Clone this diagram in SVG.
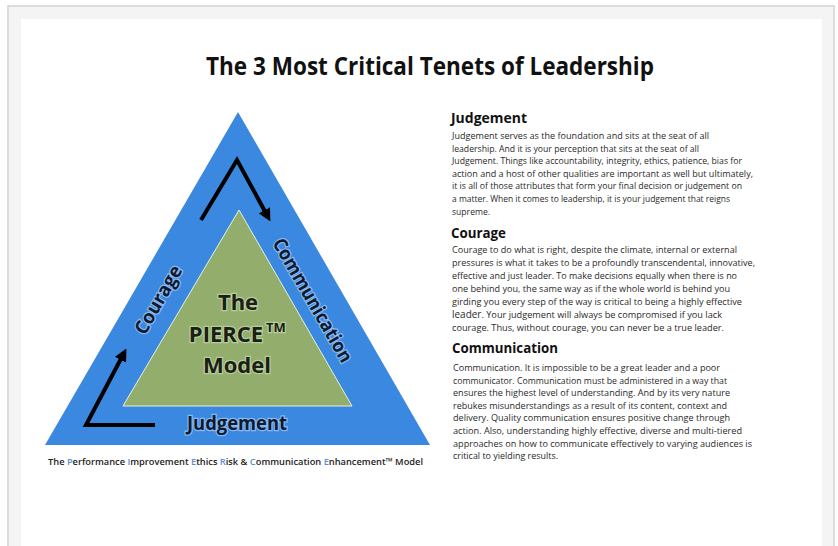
<svg xmlns="http://www.w3.org/2000/svg" width="838" height="546" viewBox="0 0 838 546">
<defs>
<style>
.title{font-family:"Open Sans","Liberation Sans",sans-serif;font-weight:700;font-size:25px;fill:#111}
.h{font-family:"Open Sans","Liberation Sans",sans-serif;font-weight:700;font-size:15px;fill:#111}
.b{font-family:"Open Sans","Liberation Sans",sans-serif;font-size:9.4px;fill:#2a2a2a}
.ctr{font-family:"Open Sans","Liberation Sans",sans-serif;font-weight:700;font-size:22px;fill:#1b1f14;text-anchor:middle;stroke:#d8e8c8;stroke-width:2.5;stroke-opacity:0.55;paint-order:stroke}
.lbl{font-family:"Open Sans","Liberation Sans",sans-serif;font-weight:700;font-size:19px;fill:#0e1a30;text-anchor:middle;stroke:#cfe3ff;stroke-width:2.5;stroke-opacity:0.55;paint-order:stroke}
.cap{font-family:"Open Sans","Liberation Sans",sans-serif;font-weight:600;font-size:9.5px;fill:#222}
.cap .k{fill:#5b8fd6}
.arr{fill:none;stroke:#000;stroke-width:4;stroke-linejoin:miter;marker-end:url(#ah)}
</style>
<marker id="ah" viewBox="0 0 10 10" refX="6" refY="5" markerWidth="3.2" markerHeight="3.2" orient="auto" markerUnits="strokeWidth">
<path d="M0,0 L10,5 L0,10 z" fill="#000"/>
</marker>
</defs>
<rect x="0" y="0" width="838" height="546" fill="#fff"/>
<rect x="8" y="6" width="826" height="560" fill="#f4f4f4" stroke="#dcdcdc" stroke-width="2"/>
<rect x="21" y="19" width="801" height="540" fill="#fff"/>
<text class="title" x="206" y="75" textLength="448" lengthAdjust="spacingAndGlyphs">The 3 Most Critical Tenets of Leadership</text>

<g id="node-outer-triangle">
<polygon points="238,112 45,445 430,445" fill="#3b88e0"/>
</g>
<g id="node-inner-triangle">
<polygon points="239,210 123,406 352,406" fill="#93ae6c" stroke="#e6f0dc" stroke-width="1"/>
<text class="ctr" x="238" y="310">The</text>
<text class="ctr" x="226" y="341.5">PIERCE</text>
<text class="ctr" x="276" y="332" style="font-size:13px">TM</text>
<text class="ctr" x="237" y="373">Model</text>
</g>
<g id="node-labels">
<text class="lbl" transform="translate(164,303) rotate(-60)" textLength="76" lengthAdjust="spacingAndGlyphs">Courage</text>
<text class="lbl" transform="translate(307,303.5) rotate(60)" textLength="140" lengthAdjust="spacingAndGlyphs">Communication</text>
<text class="lbl" x="237" y="430" textLength="100" lengthAdjust="spacingAndGlyphs">Judgement</text>
</g>
<g id="connectors">
<polyline class="arr" points="201,220 237,160 268,217"/>
<polyline class="arr" points="155,425 86,425 124,353"/>
</g>

<text class="cap" x="48" y="465" textLength="375" lengthAdjust="spacingAndGlyphs">The <tspan class="k">P</tspan>erformance <tspan class="k">I</tspan>mprovement <tspan class="k">E</tspan>thics <tspan class="k">R</tspan>isk &amp; <tspan class="k">C</tspan>ommunication <tspan class="k">E</tspan>nhancement™ Model</text>

<g id="node-judgement-text">
<text class="h" x="451" y="123" textLength="76" lengthAdjust="spacingAndGlyphs">Judgement</text>
<text class="b" x="452" y="139" textLength="257" lengthAdjust="spacingAndGlyphs">Judgement serves as the foundation and sits at the seat of all</text>
<text class="b" x="452" y="151.6" textLength="247" lengthAdjust="spacingAndGlyphs">leadership. And it is your perception that sits at the seat of all</text>
<text class="b" x="452" y="164.2" textLength="290" lengthAdjust="spacingAndGlyphs">Judgement. Things like accountability, integrity, ethics, patience, bias for</text>
<text class="b" x="452" y="176.8" textLength="301" lengthAdjust="spacingAndGlyphs">action and a host of other qualities are important as well but ultimately,</text>
<text class="b" x="452" y="189.4" textLength="290" lengthAdjust="spacingAndGlyphs">it is all of those attributes that form your final decision or judgement on</text>
<text class="b" x="452" y="202" textLength="278" lengthAdjust="spacingAndGlyphs">a matter. When it comes to leadership, it is your judgement that reigns</text>
<text class="b" x="452" y="214.6" textLength="38" lengthAdjust="spacingAndGlyphs">supreme.</text>
</g>
<g id="node-courage-text">
<text class="h" x="451" y="238" textLength="55" lengthAdjust="spacingAndGlyphs">Courage</text>
<text class="b" x="452" y="253" textLength="285" lengthAdjust="spacingAndGlyphs">Courage to do what is right, despite the climate, internal or external</text>
<text class="b" x="452" y="266" textLength="303" lengthAdjust="spacingAndGlyphs">pressures is what it takes to be a profoundly transcendental, innovative,</text>
<text class="b" x="452" y="279" textLength="285" lengthAdjust="spacingAndGlyphs">effective and just leader. To make decisions equally when there is no</text>
<text class="b" x="452" y="292" textLength="278" lengthAdjust="spacingAndGlyphs">one behind you, the same way as if the whole world is behind you</text>
<text class="b" x="452" y="305" textLength="290" lengthAdjust="spacingAndGlyphs">girding you every step of the way is critical to being a highly effective</text>
<text class="b" x="452" y="318" textLength="270" lengthAdjust="spacingAndGlyphs"><tspan style="font-size:10.2px">leader</tspan>. Your judgement will always be compromised if you lack</text>
<text class="b" x="452" y="331" textLength="272" lengthAdjust="spacingAndGlyphs">courage. Thus, without courage, you can never be a true leader.</text>
</g>
<g id="node-communication-text">
<text class="h" x="452" y="353" textLength="106" lengthAdjust="spacingAndGlyphs">Communication</text>
<text class="b" x="453" y="371" textLength="267" lengthAdjust="spacingAndGlyphs">Communication. It is impossible to be a great leader and a poor</text>
<text class="b" x="453" y="383.6" textLength="274" lengthAdjust="spacingAndGlyphs">communicator. Communication must be administered in a way that</text>
<text class="b" x="453" y="396.2" textLength="277" lengthAdjust="spacingAndGlyphs">ensures the highest level of understanding. And by its very nature</text>
<text class="b" x="453" y="408.8" textLength="274" lengthAdjust="spacingAndGlyphs">rebukes misunderstandings as a result of its content, context and</text>
<text class="b" x="453" y="421.4" textLength="277" lengthAdjust="spacingAndGlyphs">delivery. Quality communication ensures positive change through</text>
<text class="b" x="453" y="434" textLength="289" lengthAdjust="spacingAndGlyphs">action. Also, understanding highly effective, diverse and multi-tiered</text>
<text class="b" x="453" y="446.6" textLength="299" lengthAdjust="spacingAndGlyphs">approaches on how to communicate effectively to varying audiences is</text>
<text class="b" x="453" y="459.2" textLength="105" lengthAdjust="spacingAndGlyphs">critical to yielding results.</text>
</g>
</svg>
